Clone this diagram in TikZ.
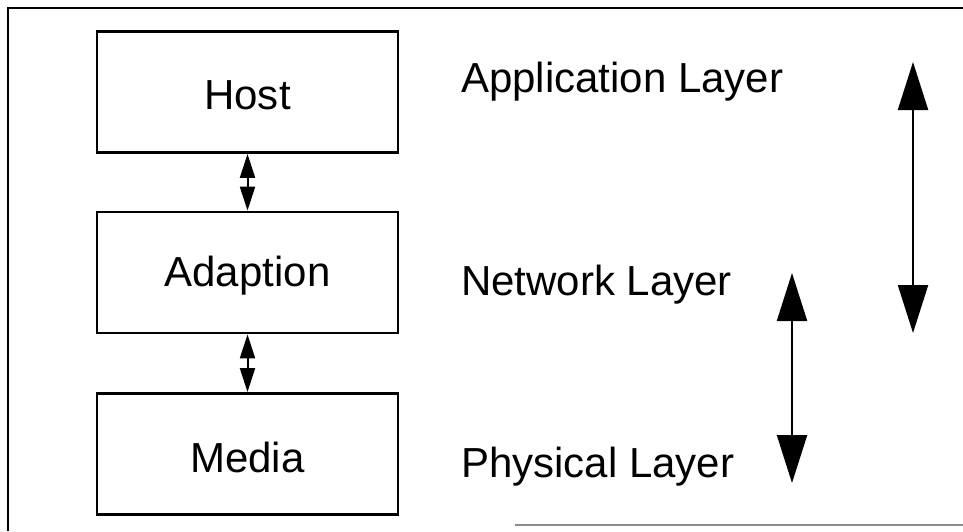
\documentclass[tikz,border=0pt]{standalone}
\usepackage{fontspec}
\setmainfont{Liberation Sans}
\usetikzlibrary{arrows.meta}
\newcommand{\lowtext}[1]{\raisebox{-3pt}[\height][\depth]{#1}}
\tikzset{
  layerbox/.style={draw, line width=2.8pt, minimum width=301pt, minimum height=121pt, inner sep=0pt, font=\fontsize{42}{50}\selectfont},
  layerlabel/.style={anchor=base west, inner sep=0pt, font=\fontsize{42}{50}\selectfont},
  smallarrow/.style={line width=2pt, {Triangle[length=24pt,width=15pt]}-{Triangle[length=24pt,width=15pt]}},
  bigarrow/.style={line width=2.2pt, {Triangle[length=48pt,width=30pt]}-{Triangle[length=48pt,width=30pt]}},
  frameline/.style={line width=2.5pt}
}
\begin{document}
\begin{tikzpicture}[x=1pt,y=-1pt]
\useasboundingbox (0,0) rectangle (963,531);
% frame
\coordinate (ftr) at (963,8);
\coordinate (ftl) at (8,8);
\coordinate (fbl) at (8,531);
\coordinate (bb1) at (515,525);
\coordinate (bb2) at (963,525);
\draw[frameline] (ftr) -- (ftl) -- (fbl);
\draw[line width=1.5pt, black!45] (bb1) -- (bb2);
% boxes
\node[layerbox] (host) at (247.5,92) {\lowtext{Host}};
\node[layerbox] (adapt) at (247.5,272.5) {\lowtext{Adaption}};
\node[layerbox] (media) at (247.5,454) {\lowtext{Media}};
% small arrows
\draw[smallarrow] (host.south) -- (adapt.north);
\draw[smallarrow] (adapt.south) -- (media.north);
% labels
\node[layerlabel] (app) at (461,92) {Application Layer};
\node[layerlabel] (net) at (461,295) {Network Layer};
\node[layerlabel] (phy) at (461,477) {Physical Layer};
% big arrows
\coordinate (a1t) at (913,62);
\coordinate (a1b) at (913,333);
\coordinate (a2t) at (792,273);
\coordinate (a2b) at (792,483);
\draw[bigarrow] (a1t) -- (a1b);
\draw[bigarrow] (a2t) -- (a2b);
\end{tikzpicture}
\end{document}
